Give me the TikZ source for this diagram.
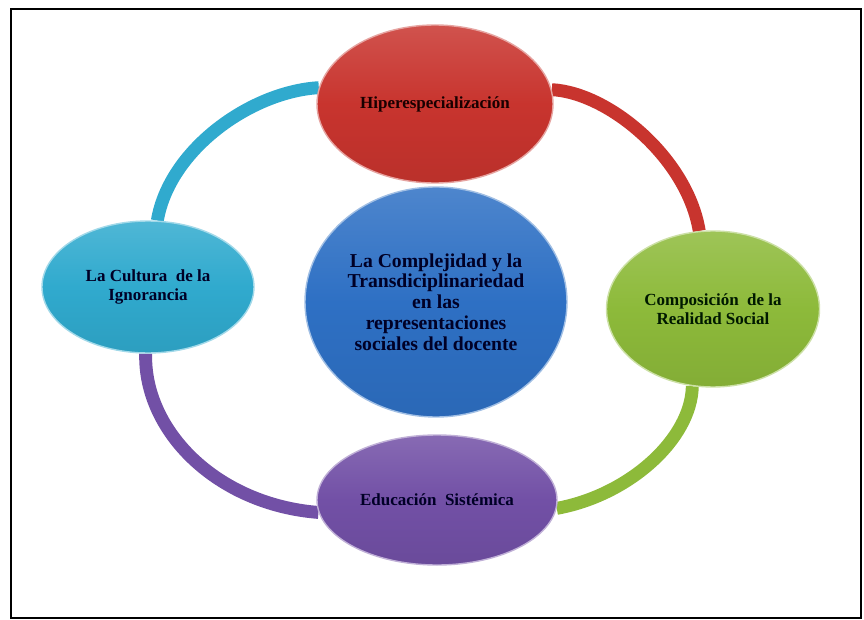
\documentclass[tikz,border=0pt]{standalone}
\usepackage{fontspec}
\setmainfont{Liberation Serif}
\usetikzlibrary{shapes.geometric}
\usetikzlibrary{backgrounds}
\definecolor{hiperred}{RGB}{200,52,46}
\definecolor{culturateal}{RGB}{48,170,206}
\definecolor{realidadgreen}{RGB}{141,186,58}
\definecolor{educpurple}{RGB}{114,80,166}
\definecolor{centroblue}{RGB}{46,112,196}
\colorlet{labelink}{black!85!blue}

\begin{document}
\begin{tikzpicture}[x=0.03cm,y=-0.03cm,
    bubble/.style={ellipse,draw=#1!45!white,line width=1.2pt,
      top color=#1!85!white,bottom color=#1!93!black,middle color=#1,
      inner sep=0pt,align=center,text=labelink,
      font=\fontsize{14.5}{16}\selectfont\bfseries},
    ring/.style={line width=11pt,draw=#1}]
    \useasboundingbox (0,0) rectangle (864,620);
    % Frame
    \draw[line width=2.4pt] (11,9) rectangle (861,618);
    % Bubbles
    \node[bubble=centroblue,minimum width=262*0.03cm,minimum height=230*0.03cm,
      font=\fontsize{16.8}{17.8}\selectfont\bfseries] (centro) at (436,302)
      {La Complejidad y la\\Transdiciplinariedad\\en las\\representaciones\\sociales del docente};
    \node[bubble=hiperred,minimum width=236*0.03cm,minimum height=158*0.03cm,
      text=black!90!red] (hiper) at (435,104) {Hiperespecialización};
    \node[bubble=culturateal,minimum width=212*0.03cm,minimum height=132*0.03cm]
      (cultura) at (148,287) {La Cultura\ \ de la\\Ignorancia};
    \node[bubble=realidadgreen,minimum width=213*0.03cm,minimum height=156*0.03cm,
      text=black!90!green] (realidad) at (713,309) {Composición\ \ de la\\Realidad Social};
    \node[bubble=educpurple,minimum width=240*0.03cm,minimum height=130*0.03cm]
      (educacion) at (437,500) {Educación\ \ Sistémica};
    % Ring
    \begin{pgfonlayer}{background}
      \draw[ring=culturateal] (cultura.82)
        .. controls +(12,-71) and +(-68,4) .. (hiper.172);
      \draw[ring=hiperred] (hiper.7)
        .. controls +(57,3) and +(-12,-73) .. (realidad.100);
      \draw[ring=realidadgreen] (realidad.255)
        .. controls +(-1,53) and +(72,-13) .. (educacion.356);
      \draw[ring=educpurple] (cultura.268)
        .. controls +(-2,77) and +(-102,-8) .. (educacion.186);
    \end{pgfonlayer}
\end{tikzpicture}
\end{document}
